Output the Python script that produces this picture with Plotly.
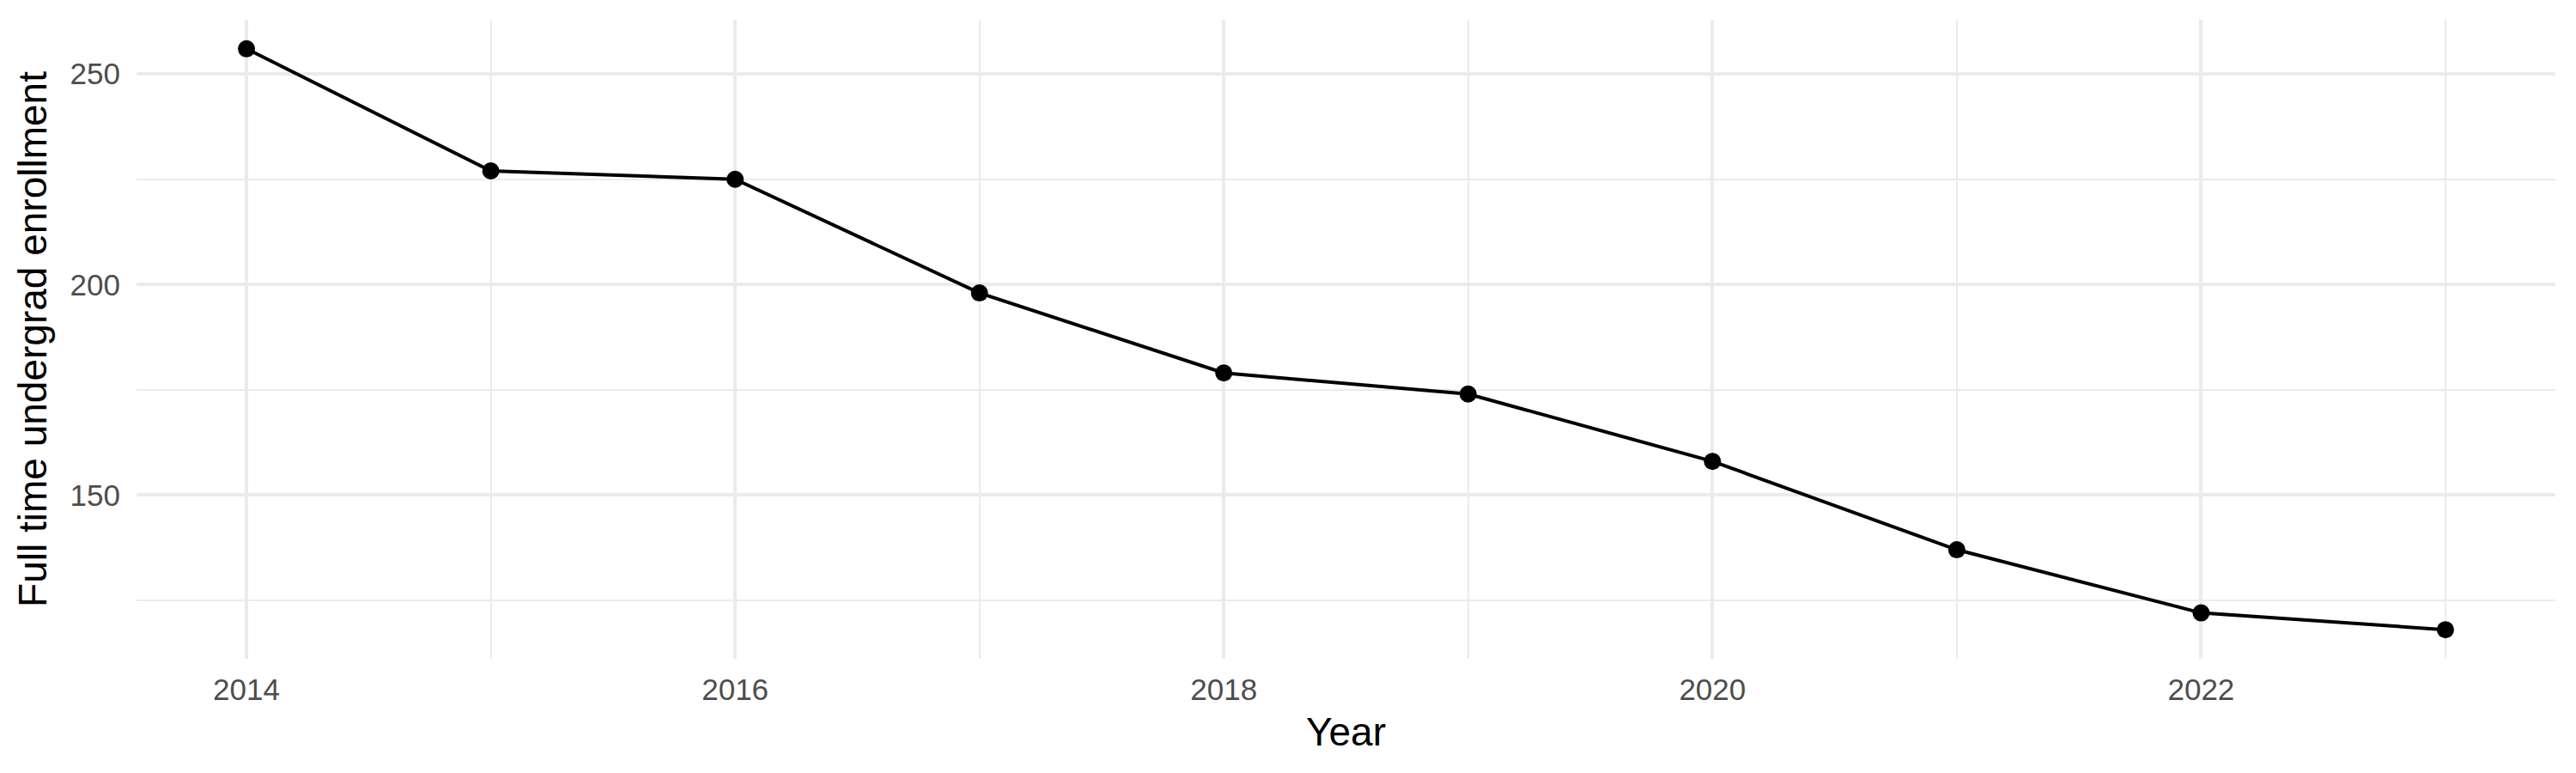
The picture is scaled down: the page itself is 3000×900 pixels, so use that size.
import plotly.graph_objects as go

# enrollment by year
years = [2014, 2015, 2016, 2017, 2018, 2019, 2020, 2021, 2022, 2023]
enrollment = [256, 227, 225, 198, 179, 174, 158, 137, 122, 118]

x_ticks = [2014, 2016, 2018, 2020, 2022]
y_ticks = [150, 200, 250]

grid_major = "#EBEBEB"
tick_col = "#4D4D4D"

fig = go.Figure()
fig.add_trace(go.Scatter(x=years, y=enrollment,
                         mode="lines+markers",
                         line=dict(color="black", width=4),
                         marker=dict(color="black", size=20),
                         showlegend=False))

# page body has an 8px margin, so the figure is trimmed to fit
fig.update_layout(width=2992, height=892,
                  paper_bgcolor="white", plot_bgcolor="white",
                  margin=dict(l=151, r=24, t=15, b=133),
                  font=dict(family="Liberation Sans, Arial, sans-serif"))

fig.update_xaxes(range=[2013.55, 2023.45],
                 tickvals=x_ticks, ticktext=[str(v) for v in x_ticks],
                 showgrid=True, gridcolor=grid_major, gridwidth=4,
                 minor=dict(dtick=1, tick0=2014, showgrid=True, gridcolor=grid_major, gridwidth=2),
                 zeroline=False, showline=False, ticks="",
                 tickfont=dict(size=35, color=tick_col),
                 ticklabelstandoff=12,
                 title=dict(text="Year", font=dict(size=46, color="black"), standoff=14))

fig.update_yaxes(range=[111.1, 262.9],
                 tickvals=y_ticks, ticktext=[str(v) for v in y_ticks],
                 showgrid=True, gridcolor=grid_major, gridwidth=4,
                 minor=dict(dtick=25, tick0=125, showgrid=True, gridcolor=grid_major, gridwidth=2),
                 zeroline=False, showline=False, ticks="",
                 tickfont=dict(size=35, color=tick_col),
                 ticklabelstandoff=18,
                 title=dict(text="Full time undergrad enrollment", font=dict(size=46, color="black"), standoff=12))

fig.write_html("out.html")
